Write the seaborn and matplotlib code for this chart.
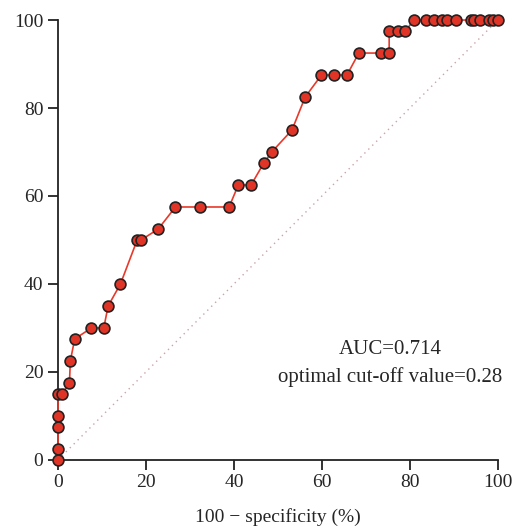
import pandas as pd
import matplotlib.pyplot as plt
import seaborn as sns

# ---- ROC points ----
fpr = [0, 0, 0, 0, 0, 0.9, 2.6, 2.8, 3.8, 7.6, 10.4, 11.4, 14.2, 18.0, 18.9,
       22.8, 26.7, 32.3, 38.9, 41.0, 43.9, 46.8, 48.6, 53.2, 56.2, 59.9, 62.7,
       65.7, 68.4, 73.4, 75.3, 75.3, 77.2, 79.0, 80.9, 83.7, 85.5, 87.4, 88.5,
       90.4, 94.0, 94.6, 95.9, 98.0, 98.8, 100]
tpr = [0, 2.5, 7.5, 10, 15, 15, 17.5, 22.5, 27.5, 30, 30, 35, 40, 50, 50,
       52.5, 57.5, 57.5, 57.5, 62.5, 62.5, 67.5, 70, 75, 82.5, 87.5, 87.5,
       87.5, 92.5, 92.5, 92.5, 97.5, 97.5, 97.5, 100, 100, 100, 100, 100,
       100, 100, 100, 100, 100, 100, 100]
ticks = [0, 20, 40, 60, 80, 100]
auc_text = "AUC=0.714"
cutoff_text = "optimal cut-off value=0.28"

roc = pd.DataFrame({"fpr": fpr, "tpr": tpr})

# ---- Style ----
sns.set_style("ticks")
plt.rcParams['font.family'] = ['Liberation Serif', 'DejaVu Serif']
plt.rcParams['font.size'] = 14

fig = plt.figure(figsize=(5.18, 5.28), dpi=100)
ax = fig.add_axes([0.112, 0.129, 0.849, 0.833])

# reference diagonal
ax.plot([0, 100], [0, 100], linestyle=(0, (1, 3)), color='#c9a3a8',
        linewidth=1, zorder=1)

sns.lineplot(data=roc, x="fpr", y="tpr", sort=False, estimator=None,
             color='#e8392a', linewidth=1.2, marker='o', markersize=7.8,
             markerfacecolor='#e03426', markeredgecolor='#222222',
             markeredgewidth=1.2, ax=ax, clip_on=False, zorder=3)

ax.set_xlim(0, 100)
ax.set_ylim(0, 100)
ax.set_xticks(ticks)
ax.set_yticks(ticks)
ax.set_xlabel("100 \u2212 specificity (%)", fontsize=14, labelpad=12)
ax.set_ylabel("")
ax.tick_params(axis='both', labelsize=14, length=7, width=1.3, color='#222222')
for side in ['left', 'bottom']:
    ax.spines[side].set_linewidth(1.3)
    ax.spines[side].set_color('#222222')
sns.despine(ax=ax)

ax.text(75.5, 25, auc_text, ha='center', va='center', fontsize=15)
ax.text(75.5, 18.9, cutoff_text, ha='center', va='center', fontsize=15)

plt.savefig("out.png", dpi=100)
